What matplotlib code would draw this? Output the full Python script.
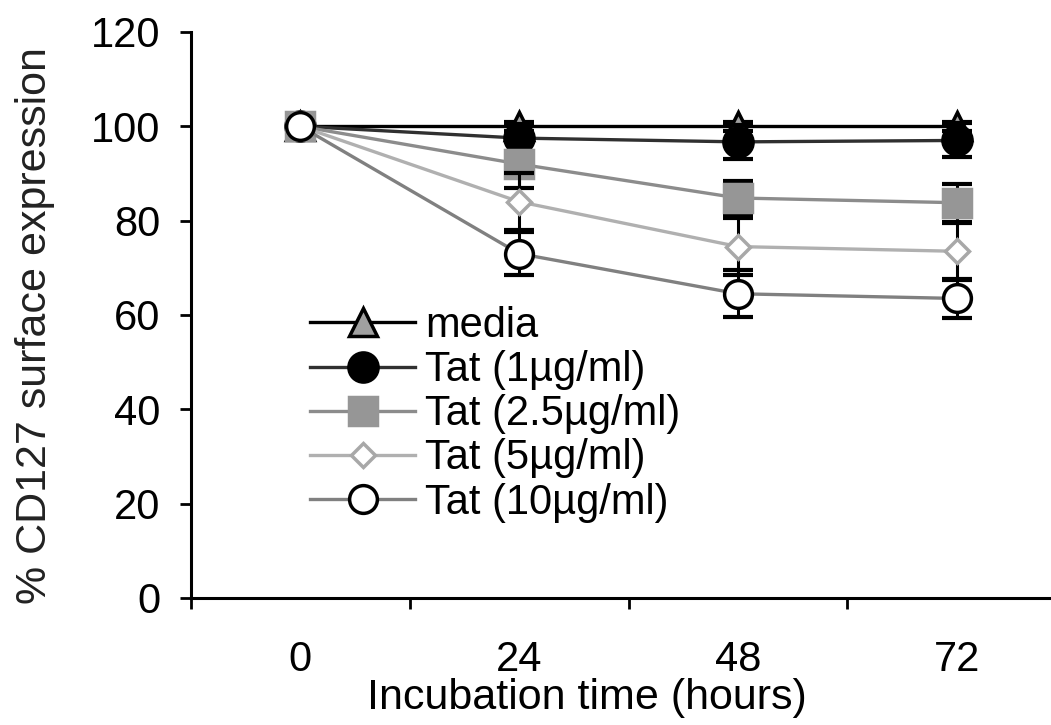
import matplotlib.pyplot as plt
import numpy as np

# data
hours = ['0', '24', '48', '72']
labels = ['media', 'Tat (1\u00b5g/ml)', 'Tat (2.5\u00b5g/ml)', 'Tat (5\u00b5g/ml)', 'Tat (10\u00b5g/ml)']
media = [100, 100, 100, 100]
media_err = [0, 1, 1, 1]
tat1 = [100, 97.5, 96.7, 97.0]
tat1_err = [0, 3.0, 3.6, 3.6]
tat25 = [100, 92.0, 84.8, 83.8]
tat25_err = [0, 5.0, 3.5, 4.0]
tat5 = [100, 84.0, 74.5, 73.5]
tat5_err = [0, 6.0, 6.0, 6.0]
tat10 = [100, 73.0, 64.5, 63.5]
tat10_err = [0, 4.5, 5.0, 4.2]

plt.rcParams['font.family'] = ['Liberation Sans', 'DejaVu Sans']

fig = plt.figure(figsize=(10.51, 7.25), dpi=100)
ax = fig.add_axes([0.1817, 0.1752, 0.8183, 0.7807])

x = np.arange(len(hours))
series = [media, tat1, tat25, tat5, tat10]
errs = [media_err, tat1_err, tat25_err, tat5_err, tat10_err]
# line colour, marker, marker size, face colour, edge colour
styles = [('black', '^', 20, '#a0a0a0', 'black'),
          ('#303030', 'o', 21, 'black', 'black'),
          ('#8c8c8c', 's', 20, '#969696', '#969696'),
          ('#b0b0b0', 'D', 12.5, 'white', '#a8a8a8'),
          ('#808080', 'o', 20, 'white', 'black')]

z = 2
for y, e, lab, st in zip(series, errs, labels, styles):
    # error bars first so the markers sit on top
    ax.errorbar(x, y, yerr=e, fmt='none', ecolor='black', elinewidth=2.2,
                capsize=10.5, capthick=3, zorder=z)
    ax.plot(x, y, color=st[0], lw=2.4, marker=st[1], ms=st[2],
            mfc=st[3], mec=st[4], mew=2.5, label=lab, zorder=z + 1)
    z += 2

ax.set_ylim(0, 120)
ax.set_yticks(np.arange(0, 121, 20))
ax.set_xlim(-0.5, 3.43)
ax.set_xticks(x)
ax.set_xticklabels(hours)
ax.set_xticks([-0.5, 0.5, 1.5, 2.5], minor=True)  # ticks between categories
ax.tick_params(axis='x', which='major', length=0, pad=30, labelsize=30)
ax.tick_params(axis='x', which='minor', length=8, width=2, direction='out')
ax.tick_params(axis='y', length=8, width=2, direction='out', pad=14, labelsize=30)

for s in ['top', 'right']:
    ax.spines[s].set_visible(False)
for s in ['left', 'bottom']:
    ax.spines[s].set_linewidth(2.2)

ax.set_xlabel('Incubation time (hours)', fontsize=31)
ax.xaxis.set_label_coords(0.46, -0.142)
ax.set_ylabel('% CD127 surface expression', fontsize=31, color='#222222')
ax.yaxis.set_label_coords(-0.158, 0.482)

leg = fig.legend(loc='upper left', bbox_to_anchor=(0.295, 0.578), frameon=False,
                 fontsize=30, numpoints=1, handlelength=2.52, handletextpad=0.24,
                 labelspacing=0.1, borderpad=0, borderaxespad=0)

fig.savefig('out.png', dpi=100)
